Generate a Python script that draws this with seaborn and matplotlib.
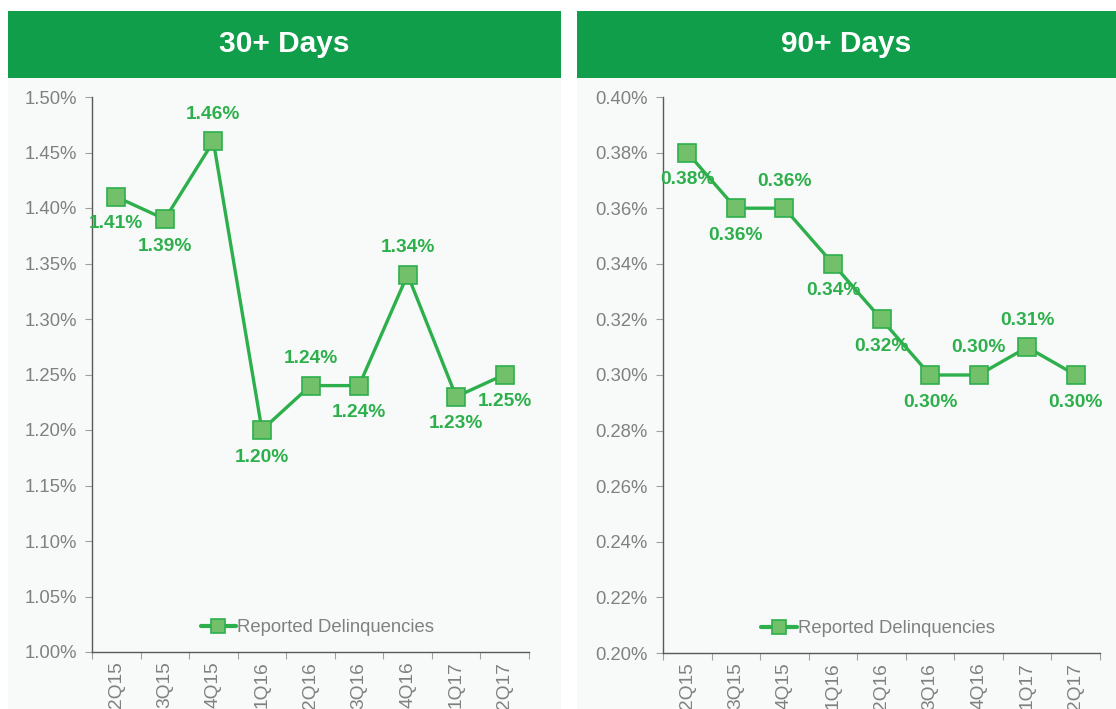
import matplotlib
matplotlib.use("Agg")
import matplotlib.pyplot as plt
from matplotlib.patches import Rectangle
from matplotlib.ticker import FuncFormatter, MultipleLocator, FixedLocator
import seaborn as sns
import pandas as pd

# ---- data ----
quarters = ["2Q15", "3Q15", "4Q15", "1Q16", "2Q16", "3Q16", "4Q16", "1Q17", "2Q17"]
days30 = [1.41, 1.39, 1.46, 1.20, 1.24, 1.24, 1.34, 1.23, 1.25]
days90 = [0.38, 0.36, 0.36, 0.34, 0.32, 0.30, 0.30, 0.31, 0.30]
# label placement: +1 above, -1 below
pos30 = [-1, -1, 1, -1, 1, -1, 1, -1, -1]
pos90 = [-1, -1, 1, -1, -1, -1, 1, 1, -1]
titles = ["30+ Days", "90+ Days"]
series_name = "Reported Delinquencies"

sns.set_theme(style="white")
plt.rcParams["font.family"] = ["Liberation Sans", "DejaVu Sans"]

HEADER = "#109E4A"
LINE = "#2DB04B"
FILL = "#72C16A"
PANEL = "#F8FAF9"
GREY = "#808080"
SPINE = "#595959"

W, H = 1116, 709
fig = plt.figure(figsize=(W / 100, H / 100), dpi=100)
fig.patch.set_facecolor("white")

def fx(px):
    return px / W

def fy(py):
    return 1 - py / H

panels = [
    dict(x0=8, x1=561, ax=(92, 529, 97, 652), vals=days30, pos=pos30,
         ylim=(1.00, 1.50), step=0.05, title=titles[0], legx=0.516),
    dict(x0=577, x1=1116, ax=(663, 1100, 97, 653), vals=days90, pos=pos90,
         ylim=(0.20, 0.40), step=0.02, title=titles[1], legx=0.493),
]

for p in panels:
    # panel background and header
    fig.patches.append(Rectangle((fx(p["x0"]), 0), fx(p["x1"] - p["x0"]), fy(78),
                                 transform=fig.transFigure, facecolor=PANEL,
                                 edgecolor="none", zorder=-10))
    fig.patches.append(Rectangle((fx(p["x0"]), fy(78)), fx(p["x1"] - p["x0"]),
                                 (78 - 11) / H, transform=fig.transFigure,
                                 facecolor=HEADER, edgecolor="none", zorder=-10))
    fig.text(fx((p["x0"] + p["x1"]) / 2), fy(44.5), p["title"], color="white",
             fontsize=21.5, fontweight="bold", ha="center", va="center")

    l, r, t, b = p["ax"]
    ax = fig.add_axes([fx(l), fy(b), fx(r - l), (b - t) / H])
    ax.set_facecolor("none")
    df = pd.DataFrame({"quarter": quarters, "value": p["vals"]})
    sns.lineplot(data=df, x="quarter", y="value", ax=ax, sort=False,
                 color=LINE, linewidth=2.4, marker="s", markersize=13,
                 markerfacecolor=FILL, markeredgecolor=LINE, markeredgewidth=1.2,
                 label=series_name)

    for i, (v, s) in enumerate(zip(p["vals"], p["pos"])):
        ax.annotate(f"{v:.2f}%", (i, v), xytext=(0, 19.5 * s),
                    textcoords="offset points", ha="center", va="center",
                    color=LINE, fontsize=13.8, fontweight="bold")

    ax.set_ylim(*p["ylim"])
    ax.set_xlim(-0.5, len(quarters) - 0.5)
    ax.yaxis.set_major_locator(MultipleLocator(p["step"]))
    ax.yaxis.set_major_formatter(FuncFormatter(lambda v, _: f"{v:.2f}%"))
    ax.set_xticks(range(len(quarters)))
    ax.set_xticklabels(quarters, rotation=90)
    ax.xaxis.set_minor_locator(FixedLocator([i - 0.5 for i in range(len(quarters) + 1)]))
    ax.tick_params(axis="x", which="major", length=0, pad=7, labelsize=13.8, labelcolor=GREY)
    ax.tick_params(axis="x", which="minor", length=5, width=0.8, color="#A0A0A0", bottom=True)
    ax.tick_params(axis="y", which="major", length=5, width=0.8, color="#A0A0A0",
                   left=True, labelsize=13.3, labelcolor=GREY, pad=6)
    ax.set_xlabel("")
    ax.set_ylabel("")
    for side in ["top", "right"]:
        ax.spines[side].set_visible(False)
    for side in ["left", "bottom"]:
        ax.spines[side].set_color(SPINE)
        ax.spines[side].set_linewidth(1.0)
    leg = ax.legend(loc="lower center", bbox_to_anchor=(p["legx"], -0.002), frameon=False,
                    fontsize=13.3, handlelength=1.9, handletextpad=0.1,
                    markerscale=0.75)
    for line in leg.get_lines():
        line.set_linewidth(3.0)
    for txt in leg.get_texts():
        txt.set_color(GREY)

fig.savefig("out.png", dpi=100, facecolor=fig.get_facecolor())
